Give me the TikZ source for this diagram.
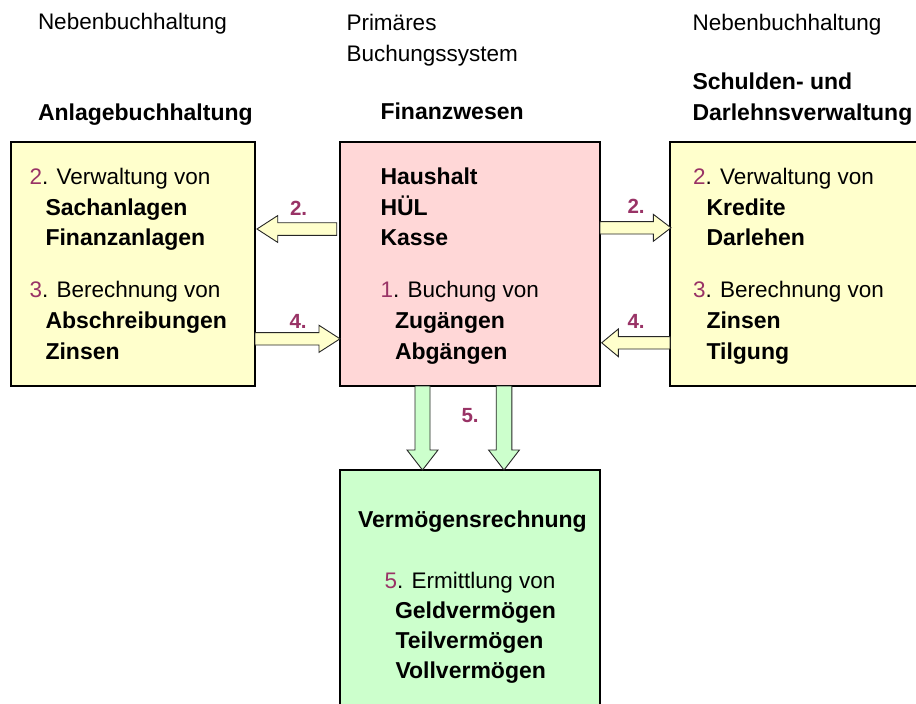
\documentclass[tikz,border=0pt]{standalone}
\usepackage{fontspec}
\setmainfont{Liberation Sans}
\usetikzlibrary{calc}
\definecolor{boxyellow}{HTML}{FFFFCC}
\definecolor{boxpink}{HTML}{FFD7D7}
\definecolor{boxgreen}{HTML}{CCFFCC}
\definecolor{numcol}{HTML}{993366}
\newcommand\nm[1]{\textcolor{numcol}{#1}}
\newcommand\bd[1]{{\fontsize{23}{27}\selectfont\bfseries #1}}
% start, end, half shaft, half head, head length, fill
\newcommand\blockarrow[6]{%
  \path ($(#2)!#5!(#1)$) coordinate (hb);
  \draw[arrowline, fill=#6]
    ($(#1)!#3!90:(#2)$) -- ($(hb)!#3!-90:(#1)$) -- ($(hb)!#4!-90:(#1)$) -- (#2)
    -- ($(hb)!#4!90:(#1)$) -- ($(hb)!#3!90:(#1)$) -- ($(#1)!#3!-90:(#2)$) -- cycle;}
\begin{document}
\begin{tikzpicture}[x=1pt,y=-1pt,
  every node/.style={font=\fontsize{22.5}{27}\selectfont},
  box/.style={draw=black, line width=2pt, anchor=north west, inner sep=0pt, outer sep=0pt},
  txt/.style={anchor=base west, inner sep=0pt, outer sep=0pt},
  lbl/.style={anchor=base west, inner sep=0pt, outer sep=0pt, text=numcol, font=\fontsize{20.5}{24}\selectfont\bfseries},
  arrowline/.style={draw=black!85, line width=0.9pt, line join=miter}]
\path[use as bounding box] (0,0) rectangle (916,704);
\clip (0,0) rectangle (916,704);
\fill[white] (0,0) rectangle (916,704);

% boxes
\node[box, fill=boxyellow, minimum width=244pt, minimum height=244pt] (lbox) at (11,142) {};
\node[box, fill=boxpink, minimum width=260pt, minimum height=244pt] (mbox) at (340,142) {};
\node[box, fill=boxyellow, minimum width=280pt, minimum height=244pt] (rbox) at (670,142) {};
\node[box, fill=boxgreen, minimum width=260pt, minimum height=260pt] (bbox) at (340,470) {};

% headings
\node[txt] (h1) at (38,29.5) {Nebenbuchhaltung};
\node[txt] (h2) at (346.5,30) {Primäres};
\node[txt] (h3) at (346.5,61.5) {Buchungssystem};
\node[txt] (h4) at (692.5,30) {Nebenbuchhaltung};
\node[txt] (h5) at (38,120) {\bd{Anlagebuchhaltung}};
\node[txt] (h6) at (380.5,119.5) {\bd{Finanzwesen}};
\node[txt] (h7) at (692.5,89.5) {\bd{Schulden- und}};
\node[txt] (h8) at (692.5,120.5) {\bd{Darlehnsverwaltung}};

% left box
\node[txt] (l1) at (29.5,184.5) {\nm{2}. Verwaltung von};
\node[txt] (l2) at (45.5,215) {\bd{Sachanlagen}};
\node[txt] (l3) at (45.5,245.5) {\bd{Finanzanlagen}};
\node[txt] (l4) at (29.5,297.5) {\nm{3}. Berechnung von};
\node[txt] (l5) at (45.5,328.5) {\bd{Abschreibungen}};
\node[txt] (l6) at (45.5,359) {\bd{Zinsen}};

% middle box
\node[txt] (m1) at (380.5,184.5) {\bd{Haushalt}};
\node[txt] (m2) at (380.5,215) {\bd{HÜL}};
\node[txt] (m3) at (380.5,245.5) {\bd{Kasse}};
\node[txt] (m4) at (380.5,297) {\nm{1}. Buchung von};
\node[txt] (m5) at (395,328.5) {\bd{Zugängen}};
\node[txt] (m6) at (395,359) {\bd{Abgängen}};

% right box
\node[txt] (r1) at (693,184.5) {\nm{2}. Verwaltung von};
\node[txt] (r2) at (706.5,215) {\bd{Kredite}};
\node[txt] (r3) at (706.5,245.5) {\bd{Darlehen}};
\node[txt] (r4) at (693,297.5) {\nm{3}. Berechnung von};
\node[txt] (r5) at (706.5,328.5) {\bd{Zinsen}};
\node[txt] (r6) at (706.5,359) {\bd{Tilgung}};

% bottom box
\node[txt] (b1) at (358,527) {\bd{Vermögensrechnung}};
\node[txt] (b2) at (384.5,588.5) {\nm{5}. Ermittlung von};
\node[txt] (b3) at (395,618) {\bd{Geldvermögen}};
\node[txt] (b4) at (395.5,648) {\bd{Teilvermögen}};
\node[txt] (b5) at (395.5,678) {\bd{Vollvermögen}};

% arrow end points
\coordinate (a1s) at (336.7,229);
\coordinate (a1e) at (257,229);
\coordinate (a2s) at (255,338.8);
\coordinate (a2e) at (340,338.8);
\coordinate (a3s) at (600,227.8);
\coordinate (a3e) at (671,227.8);
\coordinate (a4s) at (670,342.8);
\coordinate (a4e) at (601.7,342.8);
\coordinate (a5s) at (422.5,386);
\coordinate (a5e) at (422.5,470);
\coordinate (a6s) at (504,386);
\coordinate (a6e) at (504,470);

\blockarrow{a1s}{a1e}{6.3pt}{13.4pt}{20.7pt}{boxyellow}
\blockarrow{a2s}{a2e}{6.2pt}{13.5pt}{21pt}{boxyellow}
\blockarrow{a3s}{a3e}{6.2pt}{13.5pt}{17.7pt}{boxyellow}
\blockarrow{a4s}{a4e}{6.2pt}{13.8pt}{16.6pt}{boxyellow}
\blockarrow{a5s}{a5e}{7.5pt}{15.5pt}{20pt}{boxgreen}
\blockarrow{a6s}{a6e}{7.8pt}{15.4pt}{20pt}{boxgreen}

% arrow labels
\node[lbl] (t1) at (290,215) {2.};
\node[lbl] (t2) at (289.5,328.5) {4.};
\node[lbl] (t3) at (627.5,213.5) {2.};
\node[lbl] (t4) at (627.5,328.5) {4.};
\node[lbl] (t5) at (461.5,422.5) {5.};
\end{tikzpicture}
\end{document}
